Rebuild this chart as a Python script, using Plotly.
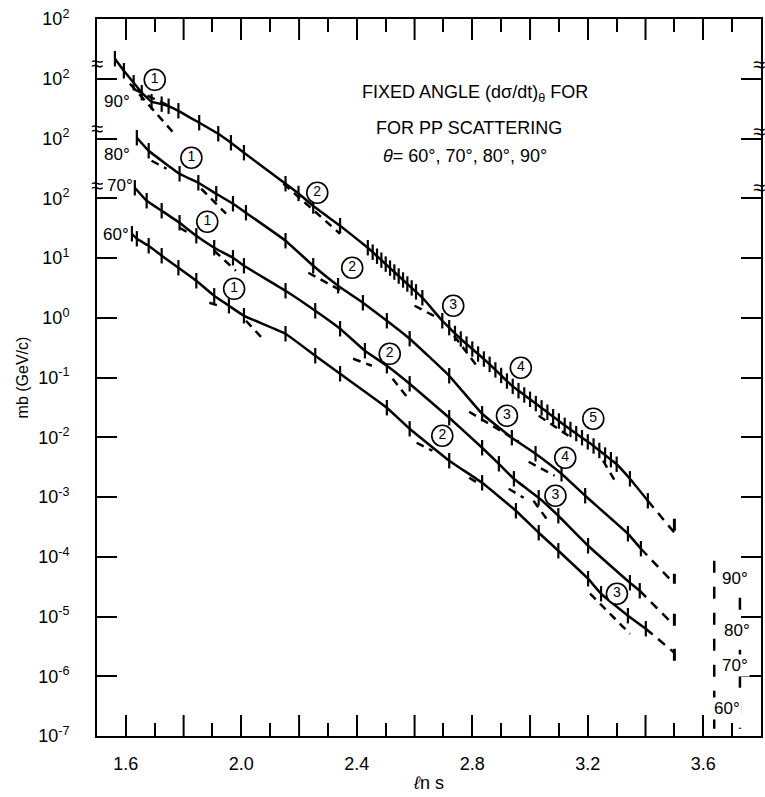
import numpy as np
import plotly.graph_objects as go

# ---------------- data (x = ln s, lg = log10 of plotted d sigma/dt on the offset scale) -------------
x90 = [1.562, 1.593, 1.627, 1.655, 1.689, 1.724, 1.748, 1.782, 1.854, 1.920, 1.964, 2.009, 2.153,
       2.198, 2.249, 2.342, 2.438, 2.455, 2.47, 2.485, 2.50, 2.515, 2.53, 2.545, 2.56, 2.575, 2.59,
       2.605, 2.627, 2.696, 2.72, 2.74, 2.76, 2.78, 2.80, 2.82, 2.84, 2.86, 2.88, 2.90, 2.92, 2.94,
       2.96, 2.98, 3.00, 3.02, 3.04, 3.06, 3.08, 3.10, 3.12, 3.14, 3.16, 3.18, 3.20, 3.22, 3.24,
       3.26, 3.28, 3.30, 3.346, 3.408]
lg90 = [4.335, 4.134, 3.933, 3.766, 3.615, 3.575, 3.540, 3.464, 3.264, 3.079, 2.929, 2.762, 2.243,
        2.08, 1.87, 1.540, 1.172, 1.097, 1.030, 0.964, 0.898, 0.831, 0.765, 0.698, 0.632, 0.565, 0.499,
        0.433, 0.335, -0.050, -0.166, -0.263, -0.356, -0.440, -0.524, -0.607, -0.691, -0.780, -0.873,
        -0.966, -1.059, -1.149, -1.221, -1.293, -1.365, -1.437, -1.509, -1.582, -1.655, -1.728, -1.801,
        -1.870, -1.939, -2.008, -2.077, -2.146, -2.222, -2.298, -2.375, -2.452, -2.695, -3.063]

x80 = [1.638, 1.679, 1.786, 1.851, 1.913, 1.971, 2.016, 2.153, 2.249, 2.335, 2.421, 2.504, 2.583,
       2.720, 2.834, 2.937, 3.019, 3.109, 3.191, 3.339, 3.384]
lg80 = [3.013, 2.795, 2.410, 2.259, 2.075, 1.908, 1.757, 1.289, 0.870, 0.536, 0.251, -0.050, -0.351,
        -0.971, -1.607, -2.008, -2.276, -2.611, -2.979, -3.615, -3.866]

x70 = [1.631, 1.672, 1.724, 1.786, 1.844, 1.906, 1.971, 2.009, 2.153, 2.256, 2.342, 2.428, 2.504,
       2.583, 2.720, 2.834, 2.892, 2.944, 3.030, 3.098, 3.201, 3.346, 3.380]
lg70 = [2.176, 1.958, 1.791, 1.590, 1.372, 1.172, 1.004, 0.870, 0.452, 0.117, -0.184, -0.552, -0.803,
        -1.105, -1.674, -2.176, -2.444, -2.695, -3.013, -3.314, -3.816, -4.435, -4.569]

x60 = [1.621, 1.638, 1.679, 1.724, 1.782, 1.844, 1.906, 1.957, 2.009, 2.153, 2.256, 2.342, 2.504,
       2.583, 2.720, 2.834, 2.951, 3.030, 3.098, 3.201, 3.246, 3.339, 3.401]
lg60 = [1.406, 1.322, 1.205, 1.038, 0.837, 0.619, 0.368, 0.201, 0.033, -0.268, -0.636, -0.937, -1.506,
        -1.858, -2.393, -2.762, -3.230, -3.598, -3.900, -4.368, -4.619, -4.987, -5.205]

# dashed extrapolations beyond the data
ext_x = [3.408, 3.500, None, 3.384, 3.483, None, 3.380, 3.483, None, 3.401, 3.500]
ext_lg = [-3.063, -3.598, None, -3.866, -4.368, None, -4.569, -5.071, None, -5.205, -5.607]

# short error bars at ln s = 3.5
bar_x = [3.5, 3.5, None, 3.5, 3.5, None, 3.5, 3.5, None, 3.5, 3.5]
bar_lg = [-3.364, -3.565, None, -4.285, -4.452, None, -4.954, -5.155, None, -5.540, -5.741]

# dashed fit segments (1)...(5)
fit_x = [1.614, 1.765, None, 1.631, 1.748, None, 2.146, 2.342, None, 2.600, 2.686, None,
         2.737, 2.823, None, 3.030, 3.133, None, 3.253, 3.298, None,
         1.689, 1.741, None, 1.861, 1.947, None, 2.232, 2.359, None, 2.789, 2.961, None,
         2.995, 3.085, None,
         1.786, 1.816, None, 1.906, 1.981, None, 2.387, 2.452, None, 2.524, 2.576, None,
         2.926, 2.978, None, 3.012, 3.057, None,
         1.889, 1.923, None, 2.016, 2.074, None, 2.607, 2.662, None, 2.789, 2.823, None,
         3.208, 3.346]
fit_lg = [3.916, 3.096, None, 3.816, 3.548, None, 2.243, 1.406, None, 0.201, -0.017, None,
          -0.301, -0.854, None, -1.640, -1.975, None, -2.393, -2.762, None,
          2.628, 2.494, None, 2.159, 1.741, None, 0.753, 0.418, None, -1.573, -2.075, None,
          -2.410, -2.644, None,
          1.506, 1.423, None, 1.121, 0.787, None, -0.686, -0.803, None, -1.021, -1.339, None,
          -2.862, -3.013, None, -3.063, -3.364, None,
          0.251, 0.201, None, -0.050, -0.351, None, -2.092, -2.226, None, -2.678, -2.778, None,
          -4.619, -5.289]

# circled region labels
lab_x = [1.700, 1.827, 1.882, 1.975, 2.263, 2.384, 2.514, 2.696, 2.734, 2.920, 3.088, 3.301,
         2.968, 3.122, 3.219]
lab_lg = [3.983, 2.678, 1.607, 0.485, 2.092, 0.837, -0.603, -1.975, 0.201, -1.640, -2.979, -4.619,
          -0.837, -2.343, -1.690]
lab_txt = ["1", "1", "1", "1", "2", "2", "2", "2", "3", "3", "3", "3", "4", "4", "5"]

# angle labels
ang_txt = ["90°", "80°", "70°", "60°"]
ang_x = [1.569, 1.569, 1.579, 1.566]
ang_lg = [3.615, 2.728, 2.209, 1.389]
key_x = [3.71, 3.717, 3.71, 3.682]
key_lg = [-4.37, -5.24, -5.82, -6.54]

# dashed key lines on the right
keyline_x = [3.638, 3.638, None, 3.727, 3.727]
keyline_lg = [-4.067, -6.879, None, -4.686, -6.879]

# axis breaks
brk_lg_left = [4.251, 3.163, 2.209]
brk_lg_right = [4.235, 3.113, 2.176]

xtick_vals = [1.6, 2.0, 2.4, 2.8, 3.2, 3.6]
xtick_text = ["1.6", "2.0", "2.4", "2.8", "3.2", "3.6"]
xlong_unlabelled = [1.8, 2.2, 2.6, 3.0, 3.4]
xminor_vals = [1.7, 1.9, 2.1, 2.3, 2.5, 2.7, 2.9, 3.1, 3.3, 3.5, 3.7]
ytick_exp = [-7, -6, -5, -4, -3, -2, -1, 0, 1, 2, 3, 4, 5]
ytick_text = ["10<sup>-7</sup>", "10<sup>-6</sup>", "10<sup>-5</sup>", "10<sup>-4</sup>",
              "10<sup>-3</sup>", "10<sup>-2</sup>", "10<sup>-1</sup>", "10<sup>0</sup>",
              "10<sup>1</sup>", "10<sup>2</sup>", "10<sup>2</sup>", "10<sup>2</sup>", "10<sup>2</sup>"]


def pw(vals):
    return [None if v is None else 10 ** v for v in vals]


FONT = "Liberation Sans"
fig = go.Figure()

for xs, ls in [(x90, lg90), (x80, lg80), (x70, lg70), (x60, lg60)]:
    fig.add_trace(go.Scatter(
        x=xs, y=pw(ls), mode="lines+markers",
        line=dict(color="black", width=2.5, shape="spline", smoothing=0.3),
        marker=dict(symbol="line-ns-open", size=11, color="black",
                    line=dict(width=2.2, color="black")),
        hoverinfo="skip"))

fig.add_trace(go.Scatter(x=ext_x, y=pw(ext_lg), mode="lines",
                         line=dict(color="black", width=2.5, dash="9px,7px"), hoverinfo="skip"))
fig.add_trace(go.Scatter(x=fit_x, y=pw(fit_lg), mode="lines",
                         line=dict(color="black", width=2.5, dash="8px,6px"), hoverinfo="skip"))
fig.add_trace(go.Scatter(x=bar_x, y=pw(bar_lg), mode="lines",
                         line=dict(color="black", width=3), hoverinfo="skip"))
fig.add_trace(go.Scatter(x=keyline_x, y=pw(keyline_lg), mode="lines",
                         line=dict(color="black", width=2.5, dash="12px,14px"), hoverinfo="skip"))
fig.add_trace(go.Scatter(
    x=lab_x, y=pw(lab_lg), mode="markers+text", text=lab_txt, textposition="middle center",
    textfont=dict(family=FONT, size=14, color="black"),
    marker=dict(symbol="circle", size=21, color="white", line=dict(width=1.6, color="black")),
    hoverinfo="skip"))

# long unlabelled ticks at bottom and top (every 0.2 without a label)
for xv in xlong_unlabelled:
    for yp, y1 in [(0, 21), (1, -21)]:
        fig.add_shape(type="line", xref="x", yref="paper", ysizemode="pixel", yanchor=yp,
                      x0=xv, x1=xv, y0=0, y1=y1, line=dict(color="black", width=2))

for t, xv, lv in zip(ang_txt, ang_x, ang_lg):
    fig.add_annotation(x=xv, y=lv, text=t, showarrow=False, xanchor="center", yanchor="middle",
                       font=dict(family=FONT, size=17, color="black"))
for t, xv, lv in zip(ang_txt, key_x, key_lg):
    fig.add_annotation(x=xv, y=lv, text=t, showarrow=False, xanchor="center", yanchor="middle",
                       bgcolor="white", font=dict(family=FONT, size=17, color="black"))
for lv in brk_lg_left:
    fig.add_annotation(xref="paper", x=0, y=lv, text="≈", showarrow=False, xanchor="center",
                       yanchor="middle", font=dict(family=FONT, size=22, color="black"))
for lv in brk_lg_right:
    fig.add_annotation(xref="paper", x=0.997, y=lv, text="≈", showarrow=False, xanchor="center",
                       yanchor="middle", font=dict(family=FONT, size=22, color="black"))

fig.add_annotation(x=2.810, y=3.749, text="FIXED ANGLE (dσ/dt)<sub>θ</sub> FOR", showarrow=False,
                   xanchor="center", yanchor="middle", font=dict(family=FONT, size=18, color="black"))
fig.add_annotation(x=2.789, y=3.180, text="FOR PP SCATTERING", showarrow=False,
                   xanchor="center", yanchor="middle", font=dict(family=FONT, size=18, color="black"))
fig.add_annotation(x=2.775, y=2.711, text="<i>θ</i>= 60°, 70°, 80°, 90°", showarrow=False,
                   xanchor="center", yanchor="middle", font=dict(family=FONT, size=18, color="black"))

fig.update_layout(
    width=765, height=797, margin=dict(l=97, r=2, t=19, b=61),
    plot_bgcolor="white", paper_bgcolor="white", showlegend=False,
    font=dict(family=FONT, color="black"),
    xaxis=dict(range=[1.5, 3.8], showline=True, linewidth=2, linecolor="black", mirror="ticks",
               ticks="inside", ticklen=21, tickwidth=2, tickcolor="black",
               tickvals=xtick_vals, ticktext=xtick_text, tickfont=dict(size=18),
               ticklabelstandoff=10, showgrid=False, zeroline=False,
               minor=dict(tickvals=xminor_vals, ticks="inside", ticklen=13, tickwidth=2,
                          tickcolor="black", showgrid=False),
               title=dict(text="<i>ℓ</i>n s", font=dict(size=18), standoff=4)),
    yaxis=dict(type="log", range=[-7, 5], showline=True, linewidth=2, linecolor="black",
               mirror="ticks", ticks="inside", ticklen=20, tickwidth=2, tickcolor="black",
               tickvals=[10 ** e for e in ytick_exp], ticktext=ytick_text, tickfont=dict(size=18),
               ticklabelstandoff=22, showgrid=False, zeroline=False,
               title=dict(text="mb (GeV/c)", font=dict(size=16), standoff=6)),
)

fig.write_html("out.html")
